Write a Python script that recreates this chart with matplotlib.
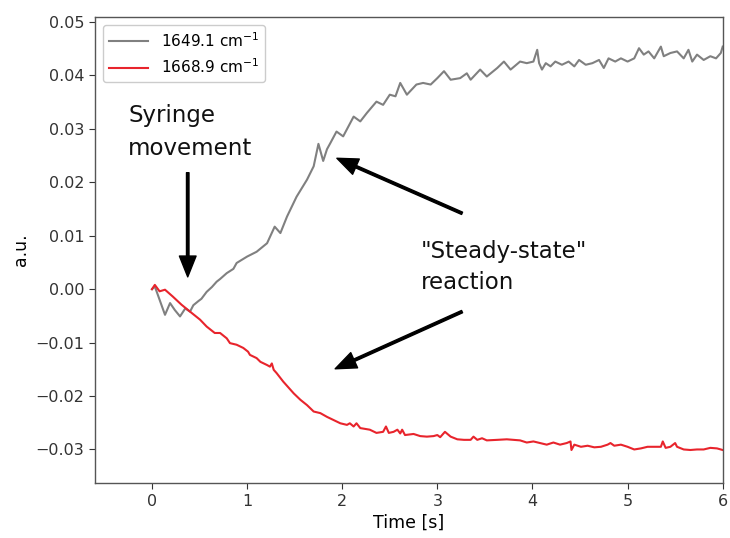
import matplotlib
matplotlib.use("Agg")
import matplotlib.pyplot as plt

# ---- data ----
t_grey = [0.0, 0.03, 0.137, 0.19, 0.24, 0.295, 0.35, 0.4, 0.435, 0.49, 0.52, 0.575,
          0.63, 0.68, 0.716, 0.786, 0.856, 0.89, 1.0, 1.1, 1.21, 1.29, 1.35, 1.42,
          1.52, 1.63, 1.70, 1.75, 1.80, 1.84, 1.874, 1.94, 2.01, 2.12, 2.19, 2.26,
          2.36, 2.43, 2.5, 2.56, 2.61, 2.68, 2.78, 2.85, 2.93, 3.0, 3.07, 3.14,
          3.24, 3.31, 3.35, 3.45, 3.52, 3.63, 3.7, 3.77, 3.87, 3.94, 4.01, 4.05,
          4.07, 4.1, 4.14, 4.19, 4.24, 4.31, 4.38, 4.44, 4.49, 4.56, 4.63, 4.7,
          4.75, 4.8, 4.87, 4.93, 5.0, 5.07, 5.12, 5.17, 5.22, 5.28, 5.35, 5.38,
          5.45, 5.52, 5.59, 5.64, 5.68, 5.73, 5.8, 5.87, 5.93, 5.98, 6.0]
y_grey = [0.0, 0.0005, -0.0048, -0.0026, -0.0039, -0.0051, -0.0036, -0.0042, -0.0030,
          -0.0022, -0.0018, -0.0005, 0.0004, 0.0014, 0.0019, 0.0030, 0.0038, 0.0049,
          0.0061, 0.0070, 0.0086, 0.0117, 0.0105, 0.0136, 0.0173, 0.0205, 0.0230,
          0.0272, 0.0240, 0.0262, 0.0273, 0.0295, 0.0286, 0.0323, 0.0314, 0.0330,
          0.0351, 0.0345, 0.0364, 0.0361, 0.0386, 0.0364, 0.0383, 0.0386, 0.0383,
          0.0395, 0.0408, 0.0392, 0.0395, 0.0404, 0.0392, 0.0411, 0.0398, 0.0414,
          0.0426, 0.0411, 0.0426, 0.0423, 0.0426, 0.0448, 0.0423, 0.0411, 0.0423,
          0.0417, 0.0426, 0.0420, 0.0426, 0.0417, 0.0429, 0.0420, 0.0423, 0.0429,
          0.0414, 0.0432, 0.0426, 0.0432, 0.0426, 0.0432, 0.0451, 0.0439, 0.0445,
          0.0432, 0.0454, 0.0436, 0.0442, 0.0445, 0.0432, 0.0448, 0.0426, 0.0439,
          0.0429, 0.0436, 0.0432, 0.0442, 0.0454]

t_red = [0.0, 0.03, 0.08, 0.137, 0.22, 0.31, 0.4, 0.505, 0.575, 0.66, 0.716, 0.786,
         0.82, 0.89, 0.96, 1.01, 1.03, 1.1, 1.14, 1.21, 1.24, 1.26, 1.28, 1.31, 1.38,
         1.49, 1.56, 1.63, 1.70, 1.77, 1.84, 1.91, 1.98, 2.05, 2.08, 2.12, 2.15,
         2.19, 2.29, 2.36, 2.43, 2.46, 2.49, 2.54, 2.58, 2.61, 2.63, 2.66, 2.75,
         2.82, 2.89, 2.96, 3.0, 3.03, 3.08, 3.14, 3.21, 3.28, 3.35, 3.38, 3.42,
         3.47, 3.52, 3.63, 3.73, 3.8, 3.87, 3.94, 4.01, 4.08, 4.15, 4.22, 4.29,
         4.36, 4.4, 4.41, 4.44, 4.51, 4.58, 4.65, 4.72, 4.79, 4.82, 4.86, 4.93,
         5.0, 5.07, 5.14, 5.21, 5.28, 5.35, 5.37, 5.4, 5.45, 5.5, 5.52, 5.59, 5.66,
         5.73, 5.8, 5.87, 5.94, 6.0]
y_red = [0.0, 0.0008, -0.0004, -0.0001, -0.0014, -0.0029, -0.0042, -0.0057, -0.0070,
         -0.0082, -0.0082, -0.0092, -0.0101, -0.0104, -0.0110, -0.0117, -0.0123,
         -0.0129, -0.0136, -0.0142, -0.0145, -0.0139, -0.0151, -0.0157, -0.0173,
         -0.0195, -0.0207, -0.0217, -0.0229, -0.0232, -0.0239, -0.0245, -0.0251,
         -0.0254, -0.0251, -0.0257, -0.0251, -0.0260, -0.0263, -0.0269, -0.0267,
         -0.0257, -0.0269, -0.0267, -0.0263, -0.0270, -0.0263, -0.0273, -0.0271,
         -0.0275, -0.0276, -0.0275, -0.0273, -0.0277, -0.0267, -0.0276, -0.0281,
         -0.0282, -0.0282, -0.0276, -0.0282, -0.0279, -0.0283, -0.0282, -0.0281,
         -0.0282, -0.0283, -0.0287, -0.0285, -0.0288, -0.0291, -0.0287, -0.0291,
         -0.0288, -0.0285, -0.0301, -0.0291, -0.0295, -0.0293, -0.0296, -0.0295,
         -0.0291, -0.0288, -0.0293, -0.0291, -0.0295, -0.0300, -0.0298, -0.0295,
         -0.0295, -0.0295, -0.0285, -0.0297, -0.0295, -0.0288, -0.0295, -0.0300,
         -0.0301, -0.0300, -0.0300, -0.0297, -0.0298, -0.0301]

labels = ["1649.1 cm$^{-1}$", "1668.9 cm$^{-1}$"]
x_ticks = [0, 1, 2, 3, 4, 5, 6]
y_ticks = [-0.03, -0.02, -0.01, 0.00, 0.01, 0.02, 0.03, 0.04, 0.05]

plt.rcParams['font.family'] = ['DejaVu Sans']
plt.rcParams['mathtext.default'] = 'regular'

fig = plt.figure(figsize=(7.3, 5.38), dpi=100)
ax = fig.add_axes([0.130, 0.102, 0.860, 0.866])

ax.plot(t_grey, y_grey, color='#808080', lw=1.5, label=labels[0])
ax.plot(t_red, y_red, color='#e8242c', lw=1.5, label=labels[1])

ax.set_xlim(-0.6, 6.0)
ax.set_ylim(-0.0363, 0.0509)
ax.set_xticks(x_ticks)
ax.set_yticks(y_ticks)
ax.set_yticklabels([f"{v:.2f}".replace('-', '\u2212') for v in y_ticks])
ax.tick_params(labelsize=11.5, colors='#333333', length=4)
for s in ax.spines.values():
    s.set_color('#555555')
    s.set_linewidth(1.0)

ax.set_xlabel("Time [s]", fontsize=12.5, labelpad=4)
ax.set_ylabel("a.u.", fontsize=12.5, labelpad=4)

leg = ax.legend(loc='upper left', fontsize=11, handlelength=2.6, framealpha=1.0,
                edgecolor='#cccccc', fancybox=True)

# annotations
ax.text(-0.25, 0.0294, "Syringe\nmovement", fontsize=16.5, ha='left', va='center',
        linespacing=1.55, color='#111111')
ax.annotate("", xy=(0.376, 0.0023), xytext=(0.376, 0.0218),
            arrowprops=dict(facecolor='black', edgecolor='black', width=1.8,
                            headwidth=12, headlength=15, shrink=0))
ax.text(2.83, 0.0041, "\"Steady-state\"\nreaction", fontsize=16.5, ha='left',
        va='center', linespacing=1.45, color='#111111')
ax.annotate("", xy=(1.944, 0.0245), xytext=(3.26, 0.0142),
            arrowprops=dict(facecolor='black', edgecolor='black', width=1.8,
                            headwidth=12, headlength=15, shrink=0))
ax.annotate("", xy=(1.926, -0.0149), xytext=(3.26, -0.0042),
            arrowprops=dict(facecolor='black', edgecolor='black', width=1.8,
                            headwidth=12, headlength=15, shrink=0))

fig.savefig("out.png", dpi=100)
